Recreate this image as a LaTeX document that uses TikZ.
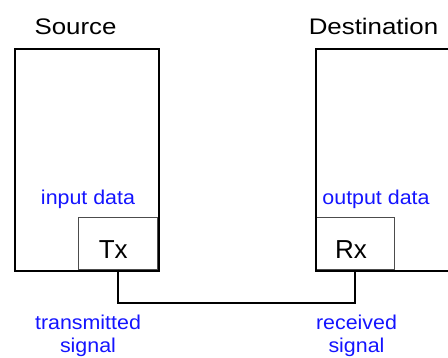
\documentclass[tikz,border=0pt]{standalone}
\usepackage{fontspec}
\setmainfont{Liberation Sans}
\newfontfamily\titlefont[FakeStretch=1.15]{Liberation Sans}
\newfontfamily\unitfont{Liberation Sans}
\newfontfamily\lblfont[FakeStretch=1.07]{Liberation Sans}
\definecolor{lblblue}{RGB}{20,20,255}
\begin{document}
\begin{tikzpicture}[x=1pt,y=-1pt,
  frame/.style={draw=black,line width=2pt,inner sep=0pt,minimum width=150,minimum height=222},
  unitbox/.style={draw=black!70,line width=1pt,inner sep=0pt,minimum width=79,minimum height=52},
  wire/.style={draw=black,line width=2pt},
  title/.style={font=\titlefont\fontsize{22.5}{27}\selectfont,anchor=base,inner sep=0pt},
  unittext/.style={font=\unitfont\fontsize{26}{30}\selectfont,anchor=base,inner sep=0pt},
  lbl/.style={text=lblblue,font=\lblfont\fontsize{20}{22.7}\selectfont,anchor=base,inner sep=0pt,align=center}]
\useasboundingbox (0,0) rectangle (448,358);
\clip (0,0) rectangle (448,358);
% transmitter / receiver units
\node[unitbox,anchor=south east] (tx) at (158,270) {};
\node[unitbox,anchor=south west] (rx) at (315,270) {};
% outer frames
\node[frame,minimum width=144,anchor=north west] (src) at (14,48) {};
\node[frame,anchor=north west] (dst) at (315,48) {};
% titles
\node[title] (srct) at (75.5,34.5) {Source};
\node[title] (dstt) at (373.5,35) {Destination};
% unit texts
\node[unittext] (txt) at (113.3,258.5) {Tx};
\node[unittext] (rxt) at (351,258.5) {Rx};
% blue labels
\node[lbl] (ind) at (88,204.5) {input data};
\node[lbl] (outd) at (376,204.5) {output data};
\node[lbl] (txs) at (88,352.7) {transmitted\\signal};
\node[lbl] (rxs) at (356.5,352.7) {received\\signal};
% connector
\coordinate (bend) at (0,303);
\draw[wire] (tx.south) -- (tx.south |- bend) -| (rx.south);
\end{tikzpicture}
\end{document}
